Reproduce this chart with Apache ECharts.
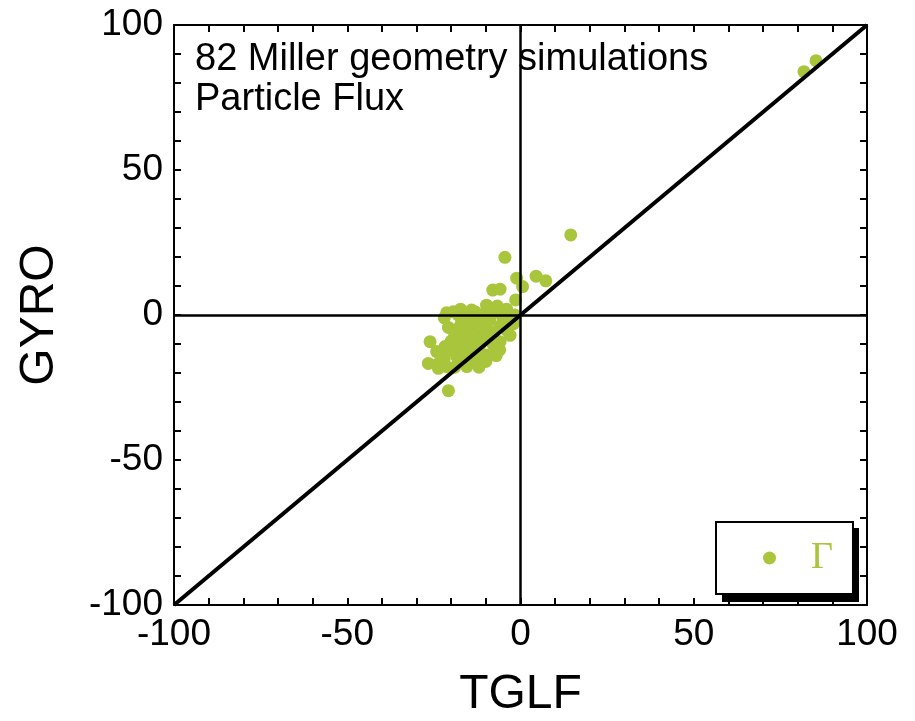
<!DOCTYPE html>
<html>
<head>
<meta charset="utf-8">
<script src="https://cdn.jsdelivr.net/npm/echarts@6/dist/echarts.min.js"></script>
<style>html,body{margin:0;padding:0;background:#fff;}#c{width:915px;height:721px;}</style>
</head>
<body>
<div id="c"></div>
<script>
const tglf = [14.5,-4.5,-1.1,4.5,7.3,0.6,-8.0,-5.9,-1.4,-9.8,-6.7,-1.6,-21.3,-19.4,-17.3,-14.1,-12.6,-8.8,-5.0,-20.8,-17.5,-14.1,-4.0,-26.1,-21.8,-24.2,-18.4,-17.0,-15.5,-11.7,-9.3,-5.9,-6.9,-26.6,-23.7,-21.3,-18.4,-15.5,-12.6,-9.8,-20.8,85.3,81.8,
  -16,-11,-7,-3,-13,-10,-16,-19,-12,-8,-3,-14,-20,-16,-13,-11,-8,-22,-17,-14,-24,-19,-12,-10,-6,-15,-18,-22,-9,-4,-6,-2,-18,-23,-7,-11,-17,-20,-13];
const gyro = [27.6,19.9,12.7,13.4,11.8,9.8,8.6,8.9,5.2,3.4,3.1,0,0.8,1.1,2.0,1.7,-1.7,-1.7,-1.1,-4.3,-4.0,-5.2,-5.2,-9.2,-10.9,-12.6,-9.8,-7.5,-10.9,-10.3,-7.5,-9.2,-11.5,-16.7,-18.4,-17.8,-14.4,-17.8,-16.7,-13.8,-26.1,87.7,83.9,
  -1,0,1,-2,-3,-4,-6,-7,-7,-6,-7,-9,-12,-13,-12,-14,-10,-15,-16,-15,-17,-18,-18,-16,-12,-3,0,-1,1,2,-4,-3,-11,-13,-14,-9,-2,-9,1];
const axisTicks = [-100,-50,0,50,100];
const seriesName = 'Γ';
const titleLines = ['82 Miller geometry simulations','Particle Flux'];
const xName = 'TGLF', yName = 'GYRO';
const diag = [[-100,-100],[100,100]];

const pts = tglf.map((x,i)=>[x, gyro[i]]);
const green = '#a9c53c';
const font = 'Liberation Sans, Arial, Helvetica, sans-serif';

function mkAxis(pos, showLabel, name, nameGap) {
  return {
    type:'value', position:pos, min:-100, max:100, interval:10,
    name: name || '', nameLocation:'middle', nameGap: nameGap || 0,
    nameTextStyle:{fontSize:48, color:'#000', fontFamily:font},
    axisLine:{show:true, onZero:false, lineStyle:{color:'#000', width:2}},
    axisTick:{show:true, inside:true, length:7, lineStyle:{color:'#000', width:2}},
    axisLabel:{show:showLabel, fontSize:37, color:'#000', fontFamily:font, margin:11,
      formatter: v => axisTicks.indexOf(v) >= 0 ? String(v) : ''},
    splitLine:{show:false}
  };
}

const chart = echarts.init(document.getElementById('c'), null, {renderer:'canvas'});
chart.setOption({
  animation:false,
  backgroundColor:'#fff',
  grid:{left:174, right:48, top:25, bottom:116, containLabel:false, outerBoundsMode:'none'},
  xAxis:[mkAxis('bottom', true, xName, 66), mkAxis('top', false)],
  yAxis:[mkAxis('left', true, yName, 110), mkAxis('right', false)],
  legend:{
    show:true, left:716, top:522, orient:'horizontal',
    data:[{name:seriesName, icon:'circle'}],
    itemWidth:13, itemHeight:13,
    padding:[17,20,17,47],
    backgroundColor:'#fff', borderColor:'#000', borderWidth:2,
    textStyle:{fontSize:38, color:green, fontFamily:'Liberation Serif, DejaVu Serif, serif', padding:[0,0,0,30]}
  },
  graphic:[
    {type:'rect', z:-1, shape:{x:722, y:528, width:137, height:74}, style:{fill:'#000'}},
    {type:'text', left:195, top:40, z:10, style:{text:titleLines.join('\n'), fontSize:38, lineHeight:40, fill:'#000', fontFamily:font}}
  ],
  series:[
    {name:seriesName, type:'scatter', xAxisIndex:0, yAxisIndex:0, data:pts, symbol:'circle', symbolSize:13,
      itemStyle:{color:green, opacity:1}, z:2},
    {name:'ref', type:'line', data:diag, symbol:'none', z:5, lineStyle:{color:'#000', width:4}, silent:true,
      markLine:{silent:true, symbol:'none', label:{show:false}, lineStyle:{color:'#000', width:2.5, type:'solid'},
        data:[{xAxis:0},{yAxis:0}]}}
  ]
});
</script>
</body>
</html>
